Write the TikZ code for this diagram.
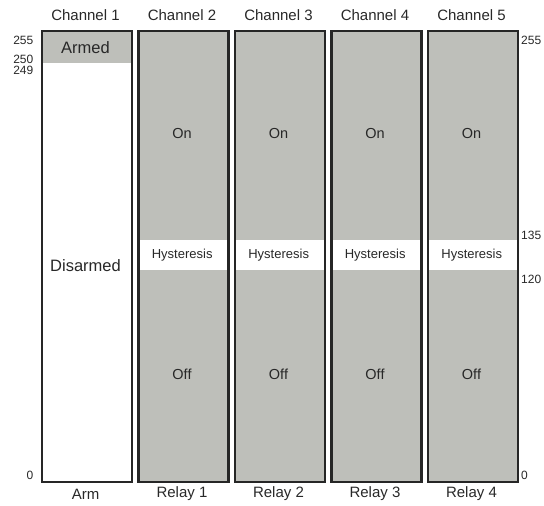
\documentclass[tikz,border=0pt]{standalone}
\usepackage{fontspec}
\setmainfont{Liberation Sans}
\usetikzlibrary{positioning}

\definecolor{relaygray}{RGB}{190,191,186}
\definecolor{inkgray}{RGB}{38,38,38}
\definecolor{txtgray}{RGB}{40,40,40}

\begin{document}
\begin{tikzpicture}[x=1pt, y=-1pt,
  chan/.style={draw=inkgray, line width=2.6pt, minimum width=90pt,
               minimum height=451pt, inner sep=0pt, anchor=north west},
  band/.style={fill=relaygray, minimum width=90pt, inner sep=0pt,
               anchor=north west},
  hband/.style={fill=white, minimum width=90pt, minimum height=30pt,
                inner sep=0pt, anchor=north west},
  hdr/.style={font=\fontsize{15}{17}\selectfont, text=txtgray},
  inlbl/.style={font=\fontsize{14.5}{16}\selectfont, text=txtgray},
  hylbl/.style={font=\fontsize{13}{15}\selectfont, text=txtgray},
  tick/.style={font=\fontsize{12}{13}\selectfont, text=txtgray, inner sep=0pt}]

  \useasboundingbox (0,0) rectangle (544,506);

  \def\pitch{96.5}

  % Channel 1: arm/disarm
  \node[band, fill=white, minimum height=451pt] (arm) at (40.5,29.5) {};
  \node[band, minimum height=33pt] (armed) at (40.5,29.5) {};
  \node[chan] (ch1) at (40.5,29.5) {};

  % Channels 2--5: relays with hysteresis
  \node[band, minimum height=451pt] (r1) at (40.5+\pitch,29.5) {};
  \node[hband] (h1) at (40.5+\pitch,240) {};
  \node[chan] (ch2) at (40.5+\pitch,29.5) {};
  \node[band, minimum height=451pt] (r2) at (40.5+2*\pitch,29.5) {};
  \node[hband] (h2) at (40.5+2*\pitch,240) {};
  \node[chan] (ch3) at (40.5+2*\pitch,29.5) {};
  \node[band, minimum height=451pt] (r3) at (40.5+3*\pitch,29.5) {};
  \node[hband] (h3) at (40.5+3*\pitch,240) {};
  \node[chan] (ch4) at (40.5+3*\pitch,29.5) {};
  \node[band, minimum height=451pt] (r4) at (40.5+4*\pitch,29.5) {};
  \node[hband] (h4) at (40.5+4*\pitch,240) {};
  \node[chan] (ch5) at (40.5+4*\pitch,29.5) {};

  % Headers and footers
  \node[hdr] (t1) at (85.5,15) {Channel 1};
  \node[hdr] (t2) at (85.5+\pitch,15) {Channel 2};
  \node[hdr] (t3) at (85.5+2*\pitch,15) {Channel 3};
  \node[hdr] (t4) at (85.5+3*\pitch,15) {Channel 4};
  \node[hdr] (t5) at (85.5+4*\pitch,15) {Channel 5};
  \node[hdr] (f1) at (85.5,494) {Arm};
  \node[hdr] (f2) at (85.5+\pitch,494) {Relay 1};
  \node[hdr] (f3) at (85.5+2*\pitch,494) {Relay 2};
  \node[hdr] (f4) at (85.5+3*\pitch,494) {Relay 3};
  \node[hdr] (f5) at (85.5+4*\pitch,494) {Relay 4};

  % Band labels
  \node[inlbl, font=\fontsize{16.5}{18}\selectfont] at (85.5,47.5) {Armed};
  \node[inlbl, font=\fontsize{16.5}{18}\selectfont] at (85.5,265.5) {Disarmed};
  \node[inlbl] at (85.5+\pitch,134) {On};
  \node[inlbl] at (85.5+2*\pitch,134) {On};
  \node[inlbl] at (85.5+3*\pitch,134) {On};
  \node[inlbl] at (85.5+4*\pitch,134) {On};
  \node[hylbl] at (h1.center) {Hysteresis};
  \node[hylbl] at (h2.center) {Hysteresis};
  \node[hylbl] at (h3.center) {Hysteresis};
  \node[hylbl] at (h4.center) {Hysteresis};
  \node[inlbl] at (85.5+\pitch,374) {Off};
  \node[inlbl] at (85.5+2*\pitch,374) {Off};
  \node[inlbl] at (85.5+3*\pitch,374) {Off};
  \node[inlbl] at (85.5+4*\pitch,374) {Off};

  % Scale values, left
  \node[tick, anchor=east] at (33.5,40) {255};
  \node[tick, anchor=east] at (33.5,59) {250};
  \node[tick, anchor=east] at (33.5,70.5) {249};
  \node[tick, anchor=east] at (33.5,475) {0};

  % Scale values, right
  \node[tick, anchor=west] at (521,40) {255};
  \node[tick, anchor=west] at (521,235) {135};
  \node[tick, anchor=west] at (521,279) {120};
  \node[tick, anchor=west] at (521,475) {0};

\end{tikzpicture}
\end{document}
